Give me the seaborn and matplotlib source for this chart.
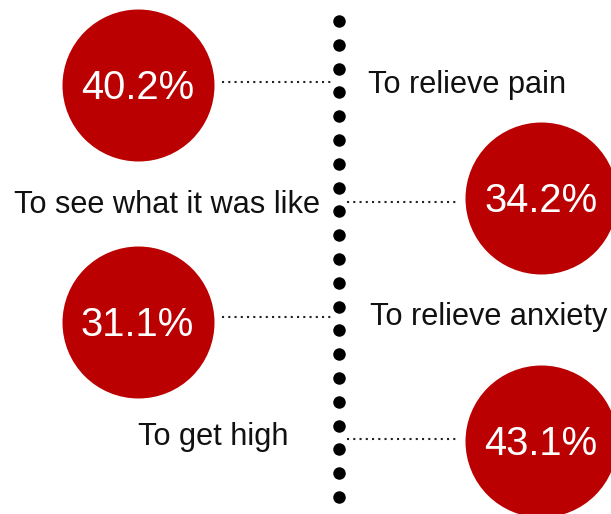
import numpy as np
import pandas as pd
import matplotlib
matplotlib.use("Agg")
import matplotlib.pyplot as plt
import seaborn as sns

# Reasons and shares, top to bottom
reasons = ["To relieve pain", "To see what it was like", "To relieve anxiety", "To get high"]
shares = [40.2, 34.2, 31.1, 43.1]
circle_side = ["left", "right", "left", "right"]

# Layout (pixel canvas, y grows downward)
W, H = 611, 514
spine_x = 339
spine_dots = np.linspace(21, 497, 21)
circle_x = {"left": 137.5, "right": 541}
circle_y = [84.5, 198, 321.5, 441]
circle_diam_px = 152
link_y = [82, 202, 317, 439]
link_span = {"left": (222, 332), "right": (347, 457)}
label_pos = [(368, 93, "left"), (320, 213, "right"), (370, 325, "left"), (138, 445, "left")]

RED = "#BA0000"
sns.set_theme(style="white")
plt.rcParams["font.family"] = ["Liberation Sans", "DejaVu Sans"]

fig = plt.figure(figsize=(W / 100, H / 100), dpi=100)
ax = fig.add_axes([0, 0, 1, 1])

df = pd.DataFrame({
    "reason": reasons,
    "share": shares,
    "x": [circle_x[s] for s in circle_side],
    "y": circle_y,
})

# Central dotted spine
sns.scatterplot(x=np.full(len(spine_dots), spine_x), y=spine_dots, ax=ax,
                s=(12.5 * 0.72) ** 2, color="black", linewidth=0, zorder=3)

# Connectors from the spine to each circle
for side, ly in zip(circle_side, link_y):
    x0, x1 = link_span[side]
    ax.plot([x0, x1], [ly, ly], color="#222222", lw=1.5,
            linestyle=(0, (1, 2)), dash_capstyle="butt", zorder=2)

# Value circles
sns.scatterplot(data=df, x="x", y="y", ax=ax, s=(circle_diam_px * 0.72) ** 2,
                color=RED, linewidth=0, zorder=4, legend=False)

pct_fs = 28.8
cap_px = 0.716 * pct_fs * 100 / 72
for _, r in df.iterrows():
    ax.text(r["x"], r["y"] + cap_px / 2, f"{r['share']:.1f}%", color="white",
            fontsize=pct_fs, ha="center", va="baseline", zorder=5)

for text, (lx, ly, ha) in zip(reasons, label_pos):
    ax.text(lx, ly, text, fontsize=22.15, color="#111111", ha=ha, va="baseline", zorder=5)

ax.set_xlim(0, W)
ax.set_ylim(H, 0)
ax.set_xlabel("")
ax.set_ylabel("")
ax.axis("off")

fig.savefig("out.png", dpi=100, facecolor="white")
